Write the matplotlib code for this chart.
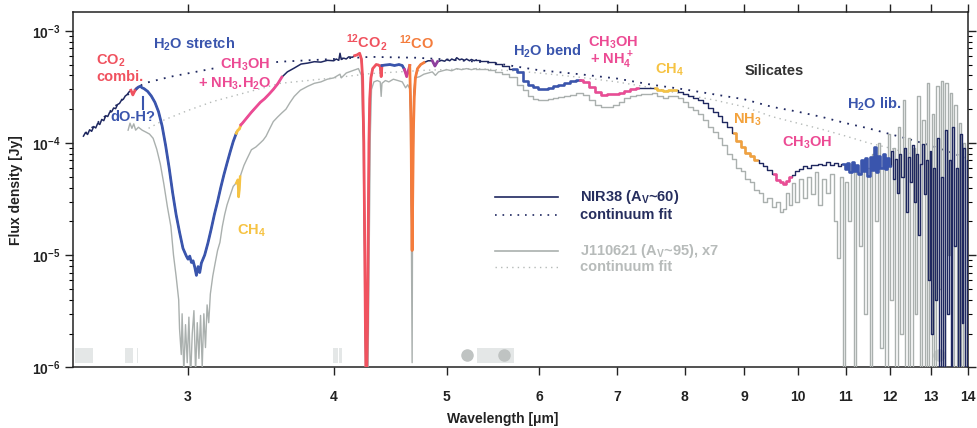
import numpy as np
import matplotlib
matplotlib.use("Agg")
import matplotlib.pyplot as plt
from matplotlib.ticker import FixedLocator, NullLocator, FixedFormatter
from matplotlib.transforms import blended_transform_factory

plt.rcParams["font.family"] = ["Liberation Sans", "DejaVu Sans"]
plt.rcParams["font.weight"] = "bold"
plt.rcParams["mathtext.default"] = "regular"

# NIR38, ground-based part (wavelength um, flux Jy)
nir38_hr = [
    (2.44, 1.15e-4), (2.45, 1.24e-4), (2.46, 1.19e-4), (2.47, 1.31e-4), (2.48, 1.27e-4),
    (2.49, 1.40e-4), (2.50, 1.36e-4), (2.51, 1.50e-4), (2.52, 1.46e-4), (2.53, 1.62e-4),
    (2.54, 1.58e-4), (2.55, 1.75e-4), (2.56, 1.72e-4), (2.57, 1.88e-4), (2.58, 1.90e-4),
    (2.59, 2.05e-4), (2.60, 2.02e-4), (2.61, 2.20e-4), (2.62, 2.25e-4), (2.63, 2.40e-4),
    (2.64, 2.45e-4), (2.65, 2.62e-4), (2.66, 2.70e-4), (2.67, 2.85e-4), (2.68, 2.95e-4),
    (2.69, 2.68e-4), (2.70, 2.90e-4), (2.71, 3.05e-4), (2.72, 3.15e-4), (2.73, 3.20e-4),
    (2.74, 3.10e-4), (2.75, 3.05e-4), (2.77, 2.88e-4), (2.79, 2.62e-4), (2.81, 2.30e-4),
    (2.83, 1.90e-4), (2.85, 1.42e-4), (2.87, 9.5e-5), (2.89, 6.0e-5), (2.91, 3.6e-5),
    (2.93, 2.3e-5), (2.95, 1.6e-5), (2.97, 1.15e-5), (2.99, 9.8e-6), (3.00, 9.2e-6),
    (3.01, 9.8e-6), (3.02, 8.6e-6), (3.03, 8.9e-6), (3.04, 7.8e-6), (3.05, 6.6e-6),
    (3.06, 7.9e-6), (3.07, 7.0e-6), (3.08, 8.5e-6), (3.10, 1.0e-5), (3.12, 1.28e-5),
    (3.14, 1.7e-5), (3.16, 2.3e-5), (3.18, 3.0e-5), (3.20, 4.0e-5), (3.22, 5.2e-5),
    (3.24, 6.6e-5), (3.26, 8.3e-5), (3.28, 1.03e-4), (3.30, 1.22e-4), (3.31, 1.30e-4),
    (3.32, 1.33e-4), (3.33, 1.45e-4), (3.34, 1.50e-4), (3.37, 1.68e-4), (3.40, 1.88e-4),
    (3.43, 2.08e-4), (3.46, 2.30e-4), (3.49, 2.48e-4), (3.52, 2.72e-4), (3.55, 3.00e-4),
    (3.58, 3.35e-4), (3.61, 3.85e-4), (3.65, 4.30e-4), (3.70, 4.65e-4), (3.75, 5.05e-4),
    (3.80, 5.15e-4), (3.85, 5.30e-4), (3.90, 5.25e-4), (3.95, 5.45e-4), (4.00, 5.40e-4),
    (4.02, 5.60e-4), (4.04, 5.45e-4), (4.05, 6.30e-4), (4.06, 5.55e-4), (4.08, 5.70e-4),
    (4.10, 5.60e-4), (4.12, 5.85e-4), (4.15, 5.80e-4), (4.17, 6.00e-4), (4.19, 6.10e-4),
    (4.21, 6.30e-4), (4.225, 5.60e-4), (4.235, 3.80e-4), (4.245, 1.0e-4), (4.252, 1.5e-5),
    (4.258, 2.5e-6), (4.266, 5e-7), (4.276, 2.5e-6), (4.282, 1.5e-5), (4.288, 1.0e-4),
    (4.295, 2.5e-4), (4.305, 3.8e-4), (4.32, 4.6e-4), (4.35, 5.0e-4), (4.37, 4.95e-4),
    (4.385, 4.8e-4), (4.393, 3.9e-4), (4.40, 4.9e-4), (4.43, 4.95e-4), (4.47, 5.0e-4),
    (4.51, 4.9e-4), (4.55, 5.0e-4), (4.58, 4.9e-4), (4.60, 4.5e-4), (4.62, 3.9e-4),
    (4.635, 4.4e-4), (4.648, 4.9e-4), (4.66, 1.5e-4), (4.665, 3.0e-5), (4.67, 1.1e-5),
    (4.675, 3.0e-5), (4.682, 1.3e-4), (4.69, 2.6e-4), (4.70, 3.8e-4), (4.72, 4.6e-4),
    (4.75, 5.0e-4), (4.78, 5.2e-4), (4.82, 5.4e-4), (4.86, 5.4e-4), (4.885, 4.85e-4),
    (4.91, 5.3e-4), (4.95, 5.45e-4), (4.98, 5.35e-4), (5.00, 5.55e-4), (5.03, 5.4e-4),
    (5.05, 5.6e-4), (5.08, 5.45e-4), (5.10, 5.75e-4), (5.13, 5.5e-4), (5.15, 5.6e-4),
    (5.18, 5.45e-4), (5.20, 5.6e-4), (5.23, 5.4e-4), (5.25, 5.55e-4), (5.28, 5.4e-4),
    (5.30, 5.5e-4),
]

# NIR38, Spitzer part (binned)
nir38_lr = [
    (5.30, 5.5e-4), (5.38, 5.4e-4), (5.46, 5.3e-4), (5.54, 5.1e-4), (5.62, 4.9e-4),
    (5.70, 4.6e-4), (5.78, 4.3e-4), (5.84, 3.6e-4), (5.90, 3.3e-4), (5.96, 3.15e-4),
    (6.02, 3.05e-4), (6.08, 3.05e-4), (6.14, 3.1e-4), (6.20, 3.2e-4), (6.27, 3.3e-4),
    (6.34, 3.4e-4), (6.42, 3.55e-4), (6.50, 3.65e-4), (6.58, 3.5e-4), (6.66, 3.15e-4),
    (6.74, 2.85e-4), (6.82, 2.7e-4), (6.90, 2.72e-4), (6.98, 2.75e-4), (7.06, 2.8e-4),
    (7.14, 2.92e-4), (7.22, 3.0e-4), (7.30, 3.07e-4), (7.38, 3.1e-4), (7.46, 3.1e-4),
    (7.54, 3.07e-4), (7.62, 2.95e-4), (7.70, 2.9e-4), (7.78, 2.98e-4), (7.86, 2.97e-4),
    (7.94, 2.85e-4), (8.02, 2.75e-4), (8.10, 2.6e-4), (8.18, 2.5e-4), (8.26, 2.4e-4),
    (8.34, 2.25e-4), (8.42, 2.05e-4), (8.50, 1.9e-4), (8.58, 1.75e-4), (8.66, 1.55e-4),
    (8.74, 1.38e-4), (8.82, 1.22e-4), (8.90, 1.05e-4), (8.98, 9.2e-5), (9.06, 8.2e-5),
    (9.14, 7.6e-5), (9.22, 7.1e-5), (9.30, 6.6e-5), (9.38, 6.2e-5), (9.46, 5.7e-5),
    (9.54, 5.3e-5), (9.62, 4.7e-5), (9.68, 4.5e-5), (9.74, 4.3e-5), (9.80, 4.6e-5),
    (9.86, 5.0e-5), (9.92, 5.2e-5), (9.98, 5.6e-5), (10.06, 5.8e-5), (10.14, 6.2e-5),
    (10.22, 6.0e-5), (10.30, 6.4e-5), (10.38, 6.3e-5), (10.46, 6.5e-5), (10.54, 6.3e-5),
    (10.62, 6.7e-5), (10.70, 6.4e-5), (10.78, 6.6e-5), (10.86, 6.2e-5), (10.94, 6.5e-5),
    (11.00, 5.8e-5), (11.05, 6.6e-5), (11.10, 5.5e-5), (11.15, 6.8e-5), (11.20, 5.6e-5),
    (11.25, 6.3e-5), (11.30, 5.3e-5), (11.35, 7.0e-5), (11.40, 5.6e-5), (11.45, 7.3e-5),
    (11.50, 5.1e-5), (11.55, 7.5e-5), (11.60, 5.7e-5), (11.65, 9.2e-5), (11.70, 5.5e-5),
    (11.75, 7.6e-5), (11.80, 6.0e-5), (11.85, 8.0e-5), (11.90, 5.8e-5), (11.95, 7.4e-5),
    (12.00, 6.2e-5), (12.05, 8.5e-5), (12.10, 4.8e-5), (12.15, 7.2e-5), (12.20, 3.6e-5),
    (12.25, 8.0e-5), (12.30, 5.0e-5), (12.35, 9.0e-5), (12.40, 2.4e-5), (12.45, 7.5e-5),
    (12.50, 4.5e-5), (12.55, 9.5e-5), (12.60, 3.0e-5), (12.65, 8.0e-5), (12.70, 1.5e-5),
    (12.75, 6.5e-5), (12.80, 9.8e-5), (12.85, 3.5e-5), (12.90, 7.0e-5), (12.95, 6.0e-6),
    (13.00, 8.5e-5), (13.05, 2.0e-6), (13.10, 6.0e-5), (13.15, 4.0e-6), (13.20, 1.1e-4),
    (13.25, 8e-7), (13.30, 5.0e-5), (13.35, 8e-7), (13.40, 1.3e-4), (13.45, 3.0e-6),
    (13.50, 7.0e-5), (13.55, 8e-7), (13.60, 1.4e-4), (13.65, 1.2e-5), (13.70, 6.0e-5),
    (13.75, 8e-7), (13.80, 1.2e-4), (13.85, 2.5e-6), (13.90, 9.0e-5), (13.95, 8e-7),
    (14.00, 7.0e-5),
]

# J110621 (x7), ground-based part
j1106_hr = [
    (2.665, 1.3e-4), (2.675, 1.5e-4), (2.685, 1.35e-4), (2.695, 1.48e-4), (2.705, 1.3e-4),
    (2.72, 1.38e-4), (2.74, 1.3e-4), (2.76, 1.25e-4), (2.78, 1.2e-4), (2.80, 1.1e-4),
    (2.82, 8.8e-5), (2.84, 6.5e-5), (2.86, 4.3e-5), (2.88, 2.7e-5), (2.90, 1.8e-5),
    (2.915, 1.0e-5), (2.93, 6.5e-6), (2.945, 4.0e-6), (2.95, 2.2e-6), (2.96, 1.3e-6),
    (2.965, 3.0e-6), (2.975, 9e-7), (2.985, 2.4e-6), (2.995, 1.1e-6), (3.005, 2.8e-6),
    (3.015, 8e-7), (3.025, 2.0e-6), (3.035, 3.2e-6), (3.045, 9e-7), (3.055, 2.5e-6),
    (3.065, 1.2e-6), (3.075, 2.9e-6), (3.085, 1.0e-6), (3.095, 3.0e-6), (3.105, 1.5e-6),
    (3.115, 3.6e-6), (3.125, 2.5e-6), (3.135, 4.5e-6), (3.15, 6.5e-6), (3.165, 8.5e-6),
    (3.18, 1.1e-5), (3.195, 1.3e-5), (3.21, 1.8e-5), (3.225, 2.3e-5), (3.24, 2.8e-5),
    (3.26, 3.4e-5), (3.28, 4.1e-5), (3.30, 4.4e-5), (3.31, 4.7e-5), (3.315, 3.3e-5),
    (3.32, 3.8e-5), (3.325, 5.0e-5), (3.335, 5.5e-5), (3.35, 6.3e-5), (3.37, 7.2e-5),
    (3.40, 8.7e-5), (3.43, 9.2e-5), (3.46, 1.0e-4), (3.48, 1.06e-4), (3.50, 1.15e-4),
    (3.52, 1.3e-4), (3.55, 1.55e-4), (3.58, 1.7e-4), (3.61, 1.85e-4), (3.64, 2.0e-4),
    (3.67, 2.3e-4), (3.70, 2.6e-4), (3.745, 2.95e-4), (3.80, 3.2e-4), (3.85, 3.4e-4),
    (3.90, 3.5e-4), (3.95, 3.7e-4), (4.00, 3.8e-4), (4.05, 4.1e-4), (4.06, 3.8e-4),
    (4.10, 4.2e-4), (4.15, 4.4e-4), (4.20, 4.6e-4), (4.225, 4.0e-4), (4.24, 1.0e-4),
    (4.25, 1.0e-5), (4.258, 8e-7), (4.28, 8e-7), (4.29, 1.0e-5), (4.30, 1.2e-4),
    (4.31, 3.0e-4), (4.33, 3.5e-4), (4.36, 3.6e-4), (4.385, 3.5e-4), (4.393, 2.6e-4),
    (4.40, 3.4e-4), (4.43, 3.6e-4), (4.46, 3.5e-4), (4.50, 3.7e-4), (4.54, 3.6e-4),
    (4.58, 3.5e-4), (4.61, 3.1e-4), (4.63, 3.3e-4), (4.65, 3.0e-4), (4.66, 5.0e-5),
    (4.67, 1.1e-6), (4.675, 5.0e-5), (4.685, 3.0e-4), (4.70, 3.8e-4), (4.74, 3.9e-4),
    (4.78, 4.1e-4), (4.82, 4.2e-4), (4.86, 4.3e-4), (4.89, 4.0e-4), (4.92, 4.3e-4),
    (4.96, 4.4e-4), (5.00, 4.5e-4), (5.05, 4.4e-4), (5.10, 4.6e-4), (5.15, 4.5e-4),
    (5.20, 4.6e-4), (5.25, 4.5e-4), (5.30, 4.6e-4),
]

# J110621 (x7), Spitzer part
j1106_lr = [
    (5.30, 4.6e-4), (5.38, 4.55e-4), (5.46, 4.5e-4), (5.54, 4.3e-4), (5.62, 4.1e-4),
    (5.70, 3.9e-4), (5.78, 3.3e-4), (5.84, 2.95e-4), (5.90, 2.6e-4), (5.96, 2.45e-4),
    (6.02, 2.4e-4), (6.08, 2.42e-4), (6.14, 2.45e-4), (6.20, 2.5e-4), (6.27, 2.55e-4),
    (6.34, 2.6e-4), (6.42, 2.7e-4), (6.50, 2.77e-4), (6.58, 2.65e-4), (6.66, 2.4e-4),
    (6.74, 2.2e-4), (6.82, 2.08e-4), (6.90, 2.1e-4), (6.98, 2.2e-4), (7.06, 2.3e-4),
    (7.14, 2.5e-4), (7.22, 2.6e-4), (7.30, 2.68e-4), (7.38, 2.72e-4), (7.46, 2.75e-4),
    (7.54, 2.77e-4), (7.62, 2.62e-4), (7.70, 2.5e-4), (7.78, 2.6e-4), (7.86, 2.62e-4),
    (7.94, 2.5e-4), (8.02, 2.3e-4), (8.10, 2.1e-4), (8.18, 1.95e-4), (8.26, 1.8e-4),
    (8.34, 1.6e-4), (8.42, 1.4e-4), (8.50, 1.25e-4), (8.58, 1.1e-4), (8.66, 9.5e-5),
    (8.74, 8.0e-5), (8.82, 7.2e-5), (8.90, 6.0e-5), (8.98, 5.6e-5), (9.06, 4.8e-5),
    (9.14, 4.5e-5), (9.22, 3.8e-5), (9.30, 3.6e-5), (9.38, 3.0e-5), (9.46, 3.2e-5),
    (9.54, 2.7e-5), (9.62, 3.0e-5), (9.68, 2.4e-5), (9.74, 2.6e-5), (9.80, 3.6e-5),
    (9.86, 2.8e-5), (9.92, 4.4e-5), (9.98, 3.0e-5), (10.06, 4.8e-5), (10.14, 3.2e-5),
    (10.22, 5.0e-5), (10.30, 3.5e-5), (10.38, 5.5e-5), (10.46, 2.8e-5), (10.54, 4.8e-5),
    (10.62, 3.6e-5), (10.70, 5.3e-5), (10.78, 2.0e-5), (10.84, 9.5e-6), (10.90, 5.0e-5),
    (10.96, 8e-7), (11.02, 4.5e-5), (11.08, 2.0e-5), (11.14, 6.5e-5), (11.20, 8e-7),
    (11.26, 5.5e-5), (11.32, 1.2e-5), (11.38, 7.0e-5), (11.44, 3.0e-6), (11.50, 6.0e-5),
    (11.56, 8e-7), (11.62, 8.0e-5), (11.68, 2.0e-5), (11.74, 1.0e-4), (11.80, 1.5e-6),
    (11.86, 7.0e-5), (11.92, 8e-7), (11.98, 1.2e-4), (12.04, 4.0e-6), (12.10, 9.0e-5),
    (12.16, 8e-7), (12.22, 1.4e-4), (12.28, 2.0e-6), (12.34, 2.4e-4), (12.40, 8e-7),
    (12.46, 1.1e-4), (12.52, 8e-7), (12.58, 9.0e-5), (12.64, 3.0e-6), (12.70, 2.6e-4),
    (12.76, 8e-7), (12.82, 1.6e-4), (12.88, 8e-7), (12.94, 3.4e-4), (13.00, 1.0e-6),
    (13.06, 1.8e-4), (13.12, 8e-7), (13.18, 3.2e-4), (13.24, 5.0e-6), (13.30, 3.6e-4),
    (13.36, 8e-7), (13.42, 3.4e-4), (13.48, 1.0e-5), (13.54, 2.8e-4), (13.60, 8e-7),
    (13.66, 2.2e-4), (13.72, 8e-7), (13.78, 1.5e-4), (13.84, 8e-7), (13.90, 1.0e-4),
    (13.96, 8e-7),
]

nir38_cont = [
    (2.45, 1.22e-4), (2.55, 1.75e-4), (2.65, 2.6e-4), (2.75, 3.4e-4), (2.9, 3.9e-4),
    (3.15, 4.6e-4), (3.4, 5.0e-4), (3.6, 5.3e-4), (4.0, 5.6e-4), (4.3, 5.85e-4),
    (4.7, 5.75e-4), (5.0, 5.55e-4), (5.5, 5.15e-4), (6.0, 4.45e-4), (6.5, 4.1e-4),
    (7.0, 3.75e-4), (7.5, 3.3e-4), (8.0, 3.0e-4), (8.5, 2.7e-4), (9.0, 2.45e-4),
    (9.5, 2.1e-4), (10.0, 1.9e-4), (10.5, 1.7e-4), (11.0, 1.5e-4), (11.5, 1.35e-4),
    (12.0, 1.2e-4), (12.5, 1.07e-4), (13.0, 9.5e-5), (13.5, 8.3e-5), (13.9, 7.4e-5),
]

j1106_cont = [
    (2.775, 1.35e-4), (2.86, 1.6e-4), (3.0, 1.95e-4), (3.155, 2.35e-4), (3.4, 2.9e-4),
    (3.6, 3.4e-4), (4.0, 3.8e-4), (4.3, 4.15e-4), (4.8, 4.45e-4), (5.3, 4.6e-4),
    (5.7, 4.4e-4), (6.0, 4.2e-4), (6.5, 3.85e-4), (7.0, 3.5e-4), (7.5, 3.1e-4),
    (8.0, 2.7e-4), (8.5, 2.4e-4), (9.0, 2.1e-4), (9.5, 1.72e-4), (10.0, 1.5e-4),
    (10.5, 1.32e-4), (11.0, 1.15e-4), (11.5, 1.0e-4), (12.0, 9.0e-5), (12.5, 8.0e-5),
]

RED = "#f0525f"
BLUE = "#3a55ad"
YELLOW = "#f6c343"
PINK = "#ec4b94"
MAGENTA = "#cc3f96"
ORANGE = "#f47c3c"
PURPLE = "#8f3f9e"
AMBER = "#f3a23c"
NAVY = "#1f2860"
GREY = "#aab0ae"

# highlighted ice features on NIR38 (lo, hi, colour)
nir38_features = [
    (2.68, 2.71, RED), (2.71, 3.30, BLUE), (3.30, 3.33, YELLOW), (3.33, 3.61, PINK),
    (4.17, 4.40, RED), (4.40, 4.60, BLUE), (4.60, 4.648, MAGENTA), (4.648, 4.80, ORANGE),
    (4.86, 4.91, PURPLE), (5.70, 6.50, BLUE), (6.50, 7.30, PINK), (7.54, 7.86, YELLOW),
    (8.82, 9.22, AMBER), (9.54, 9.86, PINK), (10.94, 12.0, BLUE),
]
j1106_features = [(3.30, 3.325, YELLOW)]

# telluric / gap markers along the bottom
gap_bands = [(2.401, 2.488), (2.651, 2.693), (2.712, 2.720), (3.998, 4.03), (4.04, 4.065),
             (5.306, 5.706)]
gap_dots = [5.202, 5.595, 13.22]

xticks = [3, 4, 5, 6, 7, 8, 9, 10, 11, 12, 13, 14]
yticks = [1e-6, 1e-5, 1e-4, 1e-3]
ytick_labels = ["10$^{-6}$", "10$^{-5}$", "10$^{-4}$", "10$^{-3}$"]

FS = 10.5

fig = plt.figure(figsize=(9.78, 4.28), dpi=100)
ax = fig.add_axes([0.0746, 0.1418, 0.9152, 0.8302])


def arr(pairs):
    a = np.array(pairs)
    return a[:, 0], a[:, 1]


# gap markers
trans = blended_transform_factory(ax.transData, ax.transAxes)
for lo, hi in gap_bands:
    ax.axvspan(lo, hi, ymin=0.013, ymax=0.054, color="#e4e7e7", lw=0, zorder=0)
ax.plot(gap_dots[:2], [0.034, 0.034], "o", ms=8, color="#bfc3c2", transform=trans, zorder=1)
ax.plot(gap_dots[2:], [0.034], "o", ms=8, color="#d3d6d5", transform=trans, zorder=1)

# continuum fits
wl, fx = arr(j1106_cont)
ax.plot(wl, fx, color="#b5bab8", lw=1.0, ls=(0, (1, 3)), zorder=2)
wl, fx = arr(nir38_cont)
ax.plot(wl, fx, color=NAVY, lw=1.3, ls=(0, (1, 3.5)), zorder=2)

# J110621 spectrum
wl, fx = arr(j1106_hr)
ax.plot(wl, fx, color=GREY, lw=1.0, zorder=3)
for lo, hi, c in j1106_features:
    m = (wl >= lo) & (wl <= hi)
    ax.plot(wl[m], fx[m], color=c, lw=1.8, zorder=4)
wl, fx = arr(j1106_lr)
ax.plot(wl, fx, color=GREY, lw=1.0, drawstyle="steps-mid", zorder=3)

# NIR38 spectrum
hw, hf = arr(nir38_hr)
lw_, lf = arr(nir38_lr)
ax.plot(hw, hf, color=NAVY, lw=1.1, zorder=5)
ax.plot(lw_, lf, color=NAVY, lw=1.0, drawstyle="steps-mid", zorder=5)
for lo, hi, c in nir38_features:
    m = (hw >= lo) & (hw <= hi)
    if m.sum() > 1:
        ax.plot(hw[m], hf[m], color=c, lw=2.0, zorder=6)
    m = (lw_ >= lo) & (lw_ <= hi)
    if m.sum() > 1:
        ax.plot(lw_[m], lf[m], color=c, lw=1.8, drawstyle="steps-mid", zorder=6)

# dO-H? marker
ax.plot([2.745, 2.745], [2.0e-4, 2.55e-4], color=BLUE, lw=1.5, zorder=7)

ax.set_xscale("log")
ax.set_yscale("log")
ax.set_xlim(2.39, 14.0)
ax.set_ylim(1e-6, 1.47e-3)

ax.xaxis.set_major_locator(FixedLocator(xticks))
ax.xaxis.set_minor_locator(NullLocator())
ax.xaxis.set_major_formatter(FixedFormatter([str(t) for t in xticks]))
ax.yaxis.set_major_locator(FixedLocator(yticks))
ax.yaxis.set_major_formatter(FixedFormatter(ytick_labels))

ax.tick_params(axis="x", which="major", direction="out", length=6, width=1, top=True,
               labelsize=10, colors="#222222", pad=10)
ax.tick_params(axis="y", which="major", direction="out", length=6, width=1, right=True,
               labelsize=10, colors="#222222", pad=3)
ax.tick_params(axis="y", which="minor", direction="out", length=3, width=0.8, right=True)
for s in ax.spines.values():
    s.set_linewidth(1.1)
    s.set_color("#222222")

ax.set_xlabel("Wavelength [\u03bcm]", fontsize=10, fontweight="bold", color="#222222")
ax.xaxis.set_label_coords(0.48, -0.145)
ax.xaxis.label.set_va("center")
ax.set_ylabel("Flux density [Jy]", fontsize=10, fontweight="bold", color="#222222")
ax.yaxis.set_label_coords(-0.064, 0.5)
ax.yaxis.label.set_va("center")

labels = [
    ("H$_2$O stretch", 0.0894, 0.910, BLUE, False),
    ("CO$_2$", 0.0257, 0.862, RED, False),
    ("combi.", 0.0257, 0.817, RED, False),
    ("dO-H?", 0.0413, 0.704, BLUE, False),
    ("CH$_3$OH", 0.1642, 0.851, PINK, True),
    ("+ NH$_3$.H$_2$O", 0.1397, 0.797, PINK, False),
    ("CH$_4$", 0.1832, 0.384, YELLOW, False),
    ("$^{12}$CO$_2$", 0.305, 0.913, RED, False),
    ("$^{12}$CO", 0.3642, 0.913, ORANGE, False),
    ("H$_2$O bend", 0.4916, 0.890, BLUE, False),
    ("CH$_3$OH", 0.5754, 0.913, PINK, False),
    ("+ NH$_4^+$", 0.5777, 0.865, PINK, False),
    ("CH$_4$", 0.6503, 0.837, YELLOW, False),
    ("Silicates", 0.7508, 0.834, "#333333", False),
    ("H$_2$O lib.", 0.8648, 0.741, BLUE, False),
    ("NH$_3$", 0.7374, 0.696, AMBER, False),
    ("CH$_3$OH", 0.7922, 0.631, PINK, False),
]
for txt, x, y, c, boxed in labels:
    t = ax.text(x, y, txt, transform=ax.transAxes, color=c, fontsize=FS,
                fontweight="bold", ha="left", va="center", zorder=8)
    if boxed:
        t.set_bbox(dict(facecolor="white", edgecolor="none", pad=1.5))

# legend
leg_rows = [
    ("NIR38 (A$_V$~60)", 0.479, NAVY, "-", 1.2, "#262e5e"),
    ("continuum fit", 0.4287, NAVY, (0, (1, 3.5)), 1.2, "#262e5e"),
    ("J110621 (A$_V$~95), x7", 0.328, GREY, "-", 1.2, "#b7bbba"),
    ("continuum fit", 0.2815, "#b5bab8", (0, (1, 3)), 1.0, "#b7bbba"),
]
for txt, y, lc, ls, lwd, tc in leg_rows:
    ax.plot([0.4715, 0.5419], [y, y], color=lc, ls=ls, lw=lwd, transform=ax.transAxes)
    ax.text(0.5665, y, txt, transform=ax.transAxes, color=tc, fontsize=FS,
            fontweight="bold", ha="left", va="center")

fig.savefig("out.png", dpi=100)
